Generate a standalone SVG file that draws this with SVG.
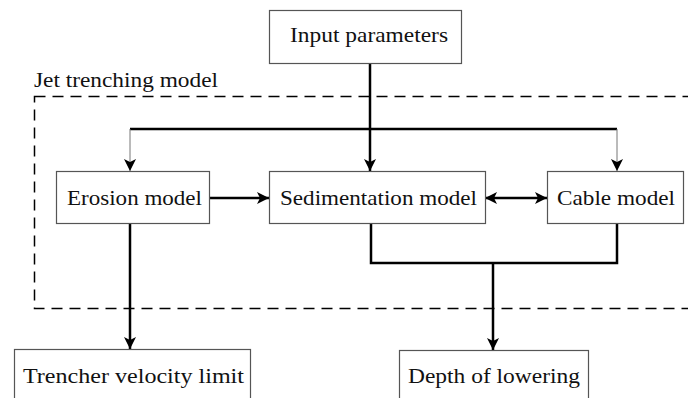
<svg xmlns="http://www.w3.org/2000/svg" width="688" height="398" viewBox="0 0 688 398">
<style>
  text { font-family: "Liberation Serif", "Times New Roman", serif; font-size: 22px; fill: #111; }
  .box { fill: #fff; stroke: #555; stroke-width: 1.2; }
  .thick { stroke: #000; stroke-width: 2.5; fill: none; }
  .thin { stroke: #777; stroke-width: 1; fill: none; }
  .dash { stroke: #000; stroke-width: 1.5; fill: none; stroke-dasharray: 11 7; }
</style>
<defs>
  <marker id="ah" viewBox="0 0 12 12" refX="12" refY="6" markerWidth="12" markerHeight="12" markerUnits="userSpaceOnUse" orient="auto-start-reverse">
    <path d="M0,0 L12,6 L0,12 L3,6 Z" fill="#000"/>
  </marker>
</defs>
<g id="frame">
  <rect class="dash" x="34.5" y="96.5" width="700" height="212"/>
  <text x="34" y="87" textLength="184" lengthAdjust="spacingAndGlyphs">Jet trenching model</text>
</g>
<g id="connectors">
  <path class="thick" d="M130,129 H617" stroke-width="2"/>
  <path class="thin" d="M130,129 V171" marker-end="url(#ah)"/>
  <path class="thin" d="M617,129 V171" marker-end="url(#ah)"/>
  <path class="thick" d="M370,63 V171" stroke-width="2" marker-end="url(#ah)"/>
  <path class="thick" d="M210,198 H269" stroke-width="2" marker-end="url(#ah)"/>
  <path class="thick" d="M485,198 H547" stroke-width="3" marker-start="url(#ah)" marker-end="url(#ah)"/>
  <path class="thick" d="M130,224 V349" stroke-width="3" marker-end="url(#ah)"/>
  <path class="thick" d="M371,224 V263 H617 V224" stroke-width="2.5"/>
  <path class="thick" d="M493,263 V350" stroke-width="3" marker-end="url(#ah)"/>
</g>
<g id="input">
  <rect class="box" x="269.5" y="10.5" width="192" height="53"/>
  <text x="290" y="42" textLength="158" lengthAdjust="spacingAndGlyphs">Input parameters</text>
</g>
<g id="erosion">
  <rect class="box" x="56.5" y="171.5" width="153" height="52"/>
  <text x="67" y="205" textLength="135" lengthAdjust="spacingAndGlyphs">Erosion model</text>
</g>
<g id="sedimentation">
  <rect class="box" x="269.5" y="171.5" width="216" height="52"/>
  <text x="280" y="205" textLength="197" lengthAdjust="spacingAndGlyphs">Sedimentation model</text>
</g>
<g id="cable">
  <rect class="box" x="547.5" y="171.5" width="136" height="52"/>
  <text x="557" y="205" textLength="118" lengthAdjust="spacingAndGlyphs">Cable model</text>
</g>
<g id="trencher">
  <rect class="box" x="14.5" y="349.5" width="236" height="60"/>
  <text x="23" y="383" textLength="221" lengthAdjust="spacingAndGlyphs">Trencher velocity limit</text>
</g>
<g id="depth">
  <rect class="box" x="399.5" y="350.5" width="189" height="60"/>
  <text x="408" y="383" textLength="172" lengthAdjust="spacingAndGlyphs">Depth of lowering</text>
</g>
</svg>
